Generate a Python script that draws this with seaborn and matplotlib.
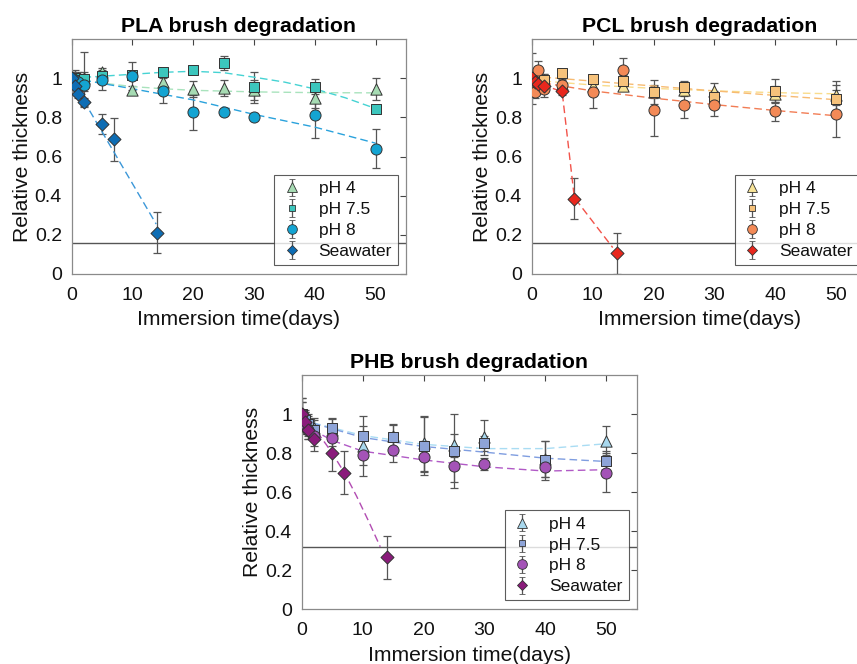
import numpy as np
import matplotlib
matplotlib.use("Agg")
import matplotlib.pyplot as plt
import seaborn as sns

# ---------------- data ----------------
T_PH = [0, 0.5, 1, 2, 5, 10, 15, 20, 25, 30, 40, 50]
T_SW = [0, 0.5, 1, 2, 5, 7, 14]
LABELS = ["pH 4", "pH 7.5", "pH 8", "Seawater"]

# PLA
PLA_PH4 = [1.0, 0.99, 1.0, 1.0, 1.03, 0.94, 0.98, 0.944, 0.949, 0.94, 0.90, 0.944]
PLA_PH4_ERR = [0.03, 0.03, 0.03, 0.03, 0.02, 0.02, 0.03, 0.04, 0.04, 0.05, 0.05, 0.055]
PLA_PH75 = [1.0, 1.0, 0.99, 0.995, 1.01, 1.017, 1.03, 1.04, 1.077, 0.954, 0.957, 0.843]
PLA_PH75_ERR = [0.03, 0.04, 0.03, 0.14, 0.02, 0.02, 0.02, 0.01, 0.035, 0.08, 0.04, 0.02]
PLA_PH8 = [1.0, 0.99, 0.98, 0.966, 0.99, 1.01, 0.937, 0.825, 0.828, 0.804, 0.813, 0.639]
PLA_PH8_ERR = [0.03, 0.03, 0.03, 0.03, 0.05, 0.07, 0.065, 0.09, 0.015, 0.02, 0.12, 0.10]
PLA_SW = [1.0, 0.96, 0.92, 0.877, 0.765, 0.688, 0.21]
PLA_SW_ERR = [0.02, 0.02, 0.02, 0.02, 0.05, 0.11, 0.105]
PLA_FIT_X = [[0, 5, 10, 15, 20, 30, 40, 50],
             [0, 5, 10, 15, 20, 25, 30, 35, 40, 45, 50],
             [0, 10, 20, 30, 40, 50],
             [0, 13.9]]
PLA_FIT_Y = [[1.0, 0.975, 0.957, 0.946, 0.938, 0.93, 0.926, 0.925],
             [1.0, 1.01, 1.02, 1.03, 1.035, 1.028, 1.005, 0.98, 0.945, 0.9, 0.845],
             [1.0, 0.946, 0.889, 0.815, 0.75, 0.668],
             [0.99, 0.255]]
PLA_THRESH = 0.16

# PCL
PCL_PH4 = [1.0, 0.98, 0.99, 0.99, 0.97, 0.96, 0.96, 0.93, 0.94, 0.935, 0.92, 0.915]
PCL_PH4_ERR = [0.03, 0.03, 0.03, 0.03, 0.02, 0.02, 0.02, 0.03, 0.03, 0.04, 0.04, 0.05]
PCL_PH75 = [1.0, 1.0, 0.98, 0.99, 1.027, 0.998, 0.986, 0.93, 0.957, 0.906, 0.935, 0.893]
PCL_PH75_ERR = [0.13, 0.03, 0.03, 0.03, 0.02, 0.02, 0.03, 0.06, 0.03, 0.03, 0.06, 0.09]
PCL_PH8 = [1.0, 0.93, 1.04, 0.945, 0.965, 0.927, 1.043, 0.835, 0.865, 0.865, 0.83, 0.819]
PCL_PH8_ERR = [0.03, 0.03, 0.05, 0.04, 0.03, 0.08, 0.06, 0.13, 0.07, 0.06, 0.05, 0.12]
PCL_SW = [1.0, 0.98, 0.97, 0.96, 0.935, 0.385, 0.106]
PCL_SW_ERR = [0.02, 0.03, 0.03, 0.03, 0.02, 0.105, 0.105]
PCL_FIT_X = [[0, 10, 20, 30, 40, 50],
             [0, 10, 20, 30, 40, 50],
             [0, 10, 20, 30, 40, 50],
             [0, 2, 5, 7, 13.3]]
PCL_FIT_Y = [[0.99, 0.965, 0.948, 0.935, 0.926, 0.92],
             [1.01, 0.985, 0.96, 0.935, 0.912, 0.89],
             [0.985, 0.935, 0.898, 0.865, 0.835, 0.808],
             [1.0, 0.965, 0.93, 0.39, 0.135]]
PCL_THRESH = 0.16

# PHB
PHB_PH4 = [1.0, 0.96, 0.94, 0.93, 0.92, 0.837, 0.89, 0.85, 0.84, 0.88, 0.77, 0.863]
PHB_PH4_ERR = [0.06, 0.05, 0.05, 0.05, 0.06, 0.10, 0.06, 0.14, 0.06, 0.09, 0.09, 0.075]
PHB_PH75 = [1.0, 0.97, 0.95, 0.92, 0.926, 0.89, 0.885, 0.837, 0.81, 0.85, 0.763, 0.76]
PHB_PH75_ERR = [0.08, 0.05, 0.05, 0.05, 0.05, 0.10, 0.06, 0.15, 0.19, 0.04, 0.10, 0.05]
PHB_PH8 = [1.0, 0.95, 0.92, 0.888, 0.878, 0.792, 0.815, 0.782, 0.734, 0.743, 0.727, 0.70]
PHB_PH8_ERR = [0.06, 0.05, 0.05, 0.05, 0.04, 0.11, 0.06, 0.08, 0.08, 0.03, 0.05, 0.10]
PHB_SW = [1.0, 0.96, 0.92, 0.87, 0.80, 0.70, 0.267]
PHB_SW_ERR = [0.08, 0.05, 0.05, 0.06, 0.09, 0.11, 0.11]
PHB_FIT_X = [[0, 10, 20, 30, 40, 50],
             [0, 10, 20, 30, 40, 50],
             [0, 5, 10, 20, 30, 40, 50],
             [0, 2, 4, 5, 7, 9, 11, 12.9]]
PHB_FIT_Y = [[0.97, 0.89, 0.845, 0.823, 0.823, 0.848],
             [0.97, 0.88, 0.834, 0.805, 0.774, 0.757],
             [0.95, 0.865, 0.81, 0.765, 0.73, 0.708, 0.715],
             [1.0, 0.93, 0.845, 0.80, 0.70, 0.58, 0.45, 0.32]]
PHB_THRESH = 0.32

MARKERS = ["^", "s", "o", "D"]
MSIZES = [66, 52, 64, 44]
LEG_MS = [6.5, 4.5, 7, 5.5]

PANELS = [
    dict(title="PLA brush degradation",
         pos=[71.7, 39, 334.3, 235],
         series=[(T_PH, PLA_PH4, PLA_PH4_ERR), (T_PH, PLA_PH75, PLA_PH75_ERR),
                 (T_PH, PLA_PH8, PLA_PH8_ERR), (T_SW, PLA_SW, PLA_SW_ERR)],
         fits=(PLA_FIT_X, PLA_FIT_Y), thresh=PLA_THRESH,
         colors=["#a6dbb3", "#3cc6bd", "#14a4d2", "#0e6db4"],
         lcolors=["#a9e3bd", "#46d3d3", "#2aa2dc", "#3b97d8"]),
    dict(title="PCL brush degradation",
         pos=[531.7, 39, 335.0, 235],
         series=[(T_PH, PCL_PH4, PCL_PH4_ERR), (T_PH, PCL_PH75, PCL_PH75_ERR),
                 (T_PH, PCL_PH8, PCL_PH8_ERR), (T_SW, PCL_SW, PCL_SW_ERR)],
         fits=(PCL_FIT_X, PCL_FIT_Y), thresh=PCL_THRESH,
         colors=["#f7e397", "#f6c27b", "#f38a57", "#e8271d"],
         lcolors=["#f9dc8c", "#f7bb72", "#f27d55", "#f2534a"]),
    dict(title="PHB brush degradation",
         pos=[301.7, 375, 335.0, 234.3],
         series=[(T_PH, PHB_PH4, PHB_PH4_ERR), (T_PH, PHB_PH75, PHB_PH75_ERR),
                 (T_PH, PHB_PH8, PHB_PH8_ERR), (T_SW, PHB_SW, PHB_SW_ERR)],
         fits=(PHB_FIT_X, PHB_FIT_Y), thresh=PHB_THRESH,
         colors=["#a8d8ee", "#8ea4d8", "#a453b7", "#8a1b7b"],
         lcolors=["#a9dcf3", "#7f9de0", "#b15ac6", "#b24cb2"]),
]

# ---------------- style ----------------
sns.set_style("white")
plt.rcParams["font.family"] = ["Liberation Sans", "DejaVu Sans"]
plt.rcParams["text.color"] = "#000000"

W, H = 857, 664
fig = plt.figure(figsize=(W / 100, H / 100), dpi=100)

EDGE = "#333333"
ECOL = "#555555"
FRAME = "#8a8a8a"

for p in PANELS:
    l, t, w, h = p["pos"]
    ax = fig.add_axes([l / W, 1 - (t + h) / H, w / W, h / H])
    fx, fy = p["fits"]
    handles = []
    for i, (tt, yy, ee) in enumerate(p["series"]):
        ax.errorbar(tt, yy, yerr=ee, fmt="none", ecolor=ECOL, elinewidth=0.9,
                    capsize=3, capthick=0.9, zorder=2)
        sns.lineplot(x=fx[i], y=fy[i], ax=ax, color=p["lcolors"][i], sort=False,
                     estimator=None, linewidth=1.0, linestyle=(0, (5.5, 3)), zorder=2.5)
        sns.scatterplot(x=tt, y=yy, ax=ax, marker=MARKERS[i], s=MSIZES[i],
                        color=p["colors"][i], edgecolor=EDGE, linewidth=0.7, zorder=3)
        hd = ax.errorbar([np.nan], [np.nan], yerr=[np.nan], fmt=MARKERS[i],
                         mfc=p["colors"][i], mec=EDGE, mew=0.6, ms=LEG_MS[i],
                         ecolor=ECOL, elinewidth=0.9, capsize=2.5, capthick=0.9,
                         label=LABELS[i])
        handles.append(hd)
    ax.axhline(p["thresh"], color="#555555", linewidth=1.0, zorder=1)
    ax.set_xlim(0, 55)
    ax.set_ylim(0, 1.2)
    ax.set_xticks([0, 10, 20, 30, 40, 50])
    ax.set_yticks([0, 0.2, 0.4, 0.6, 0.8, 1.0])
    ax.set_yticklabels(["0", "0.2", "0.4", "0.6", "0.8", "1"])
    ax.tick_params(direction="in", top=True, right=True, length=4, width=0.8,
                   color="#444444", labelsize=14, labelcolor="#111111")
    ax.tick_params(axis="x", pad=9)
    ax.tick_params(axis="y", pad=7)
    for s in ax.spines.values():
        s.set_color(FRAME)
        s.set_linewidth(0.9)
    ax.set_xlabel("Immersion time(days)", fontsize=15.2, labelpad=5, color="#111111")
    ax.set_ylabel("Relative thickness", fontsize=15.2, labelpad=2, color="#111111")
    ax.set_title(p["title"], fontsize=15.3, fontweight="bold", pad=5, color="#000000")
    leg = ax.legend(handles=handles, labels=LABELS, loc="lower right",
                    bbox_to_anchor=(0.976, 0.038), borderaxespad=0, fontsize=12.5,
                    frameon=True, fancybox=False, edgecolor="#333333",
                    handlelength=1.3, handletextpad=0.9, labelspacing=0.33,
                    borderpad=0.35)
    leg.get_frame().set_linewidth(0.8)
    for txt in leg.get_texts():
        txt.set_color("#111111")

fig.savefig("out.png", dpi=100)
